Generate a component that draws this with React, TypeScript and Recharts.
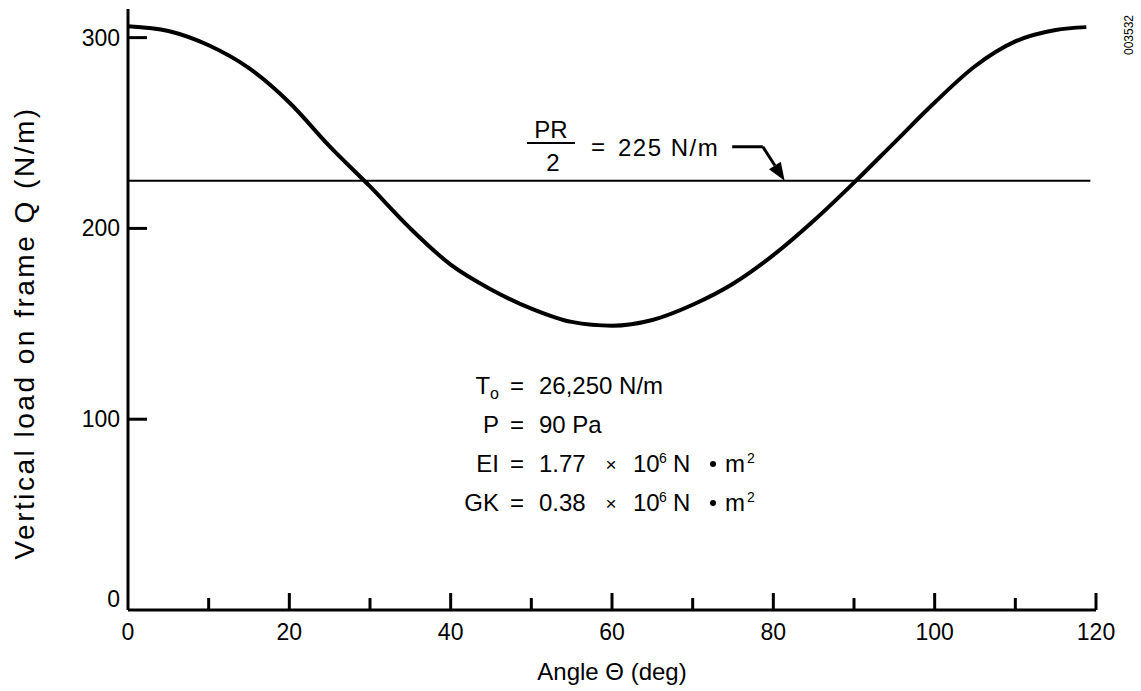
import { LineChart, Line, XAxis, YAxis, ReferenceLine } from "recharts";

// Angle (deg) vs vertical load on frame Q (N/m)
const angles = [0, 5, 10, 15, 20, 25, 30, 35, 40, 45, 50, 55, 60, 65, 70, 75, 80, 85, 90, 95, 100, 105, 110, 115, 118.8];
const loads = [306, 303.5, 296, 284, 266, 243, 222, 200, 181, 168, 158, 151, 149, 152, 160, 171, 186, 204, 224, 245, 266, 285, 298, 304, 305.5];

const xTicks = [0, 10, 20, 30, 40, 50, 60, 70, 80, 90, 100, 110, 120];
const yTicks = [0, 100, 200, 300];

const prHalf = 225;
const prLineEnd = 119.3;
// leader arrow for the PR/2 label, in data units
const arrowKnee = [
  { x: 74.9, y: 242.8 },
  { x: 78.7, y: 242.8 },
];
const arrowTip = [
  { x: 78.7, y: 242.8 },
  { x: 81.4, y: prHalf },
];

const data = angles.map((a, i) => ({ angle: a, load: loads[i] }));

const FONT = '"Liberation Sans", Arial, sans-serif';

const XTick = (props: any) => {
  const { x, y, payload } = props;
  const v = payload.value as number;
  const major = v % 20 === 0;
  return (
    <g>
      {v !== 0 && (
        <line x1={x} x2={x} y1={y} y2={y - (major ? 17 : 12)} stroke="#000" strokeWidth={3} />
      )}
      {major && (
        <text x={x} y={y + 30} textAnchor="middle" fontSize={23} fontFamily={FONT} fill="#000">
          {v}
        </text>
      )}
    </g>
  );
};

const YTick = (props: any) => {
  const { x, y, payload } = props;
  const v = payload.value as number;
  return (
    <g>
      {v !== 0 && <line x1={x} x2={x + 19} y1={y} y2={y} stroke="#000" strokeWidth={3} />}
      <text x={x - 8} y={v === 0 ? y - 3 : y + 8} textAnchor="end" fontSize={23} fontFamily={FONT} fill="#000">
        {v}
      </text>
    </g>
  );
};

const ArrowShape = (props: any) => {
  const { x1, y1, x2, y2 } = props;
  const ang = Math.atan2(y2 - y1, x2 - x1);
  const len = 18;
  const w = 7;
  const bx = x2 - len * Math.cos(ang);
  const by = y2 - len * Math.sin(ang);
  const px = -Math.sin(ang) * w;
  const py = Math.cos(ang) * w;
  return (
    <g>
      <line x1={x1} y1={y1} x2={bx} y2={by} stroke="#000" strokeWidth={3} />
      <polygon points={`${x2},${y2} ${bx + px},${by + py} ${bx - px},${by - py}`} fill="#000" />
    </g>
  );
};

const txt = { fontFamily: FONT, fontSize: 24, fill: "#000" } as const;

function Params() {
  const row = (y: number, left: any, right: any) => (
    <g>
      <text x={499} y={y} textAnchor="end" {...txt}>{left}</text>
      <text x={517} y={y} textAnchor="middle" {...txt}>=</text>
      {right}
    </g>
  );
  const sci = (y: number, mant: string) => (
    <g>
      <text x={539} y={y} {...txt}>{mant}</text>
      <text x={611} y={y - 1} textAnchor="middle" {...txt} fontSize={19}>×</text>
      <text x={633} y={y} {...txt}>10</text>
      <text x={659} y={y - 9} {...txt} fontSize={14}>6</text>
      <text x={673} y={y} {...txt}>N</text>
      <circle cx={713} cy={y - 8} r={3} fill="#000" />
      <text x={725} y={y} {...txt}>m</text>
      <text x={747} y={y - 9} {...txt} fontSize={14}>2</text>
    </g>
  );
  return (
    <g>
      {row(
        394,
        <>
          T<tspan fontSize={16} dy={5}>o</tspan>
        </>,
        <text x={539} y={394} {...txt}>26,250 N/m</text>
      )}
      {row(433, "P", <text x={539} y={433} {...txt}>90 Pa</text>)}
      {row(472, "EI", sci(472, "1.77"))}
      {row(511, "GK", sci(511, "0.38"))}
    </g>
  );
}

export default function App() {
  return (
    <div style={{ position: "absolute", left: 0, top: 0, width: 1141, height: 691, background: "#fff" }}>
      <LineChart width={1141} height={691} data={data} margin={{ top: 9, right: 45, bottom: 31, left: 68 }}>
        <XAxis
          type="number"
          dataKey="angle"
          domain={[0, 120]}
          ticks={xTicks}
          interval={0}
          height={50}
          axisLine={{ stroke: "#000", strokeWidth: 3 }}
          tickLine={false}
          tickSize={0}
          tickMargin={0}
          tick={<XTick />}
        />
        <YAxis
          type="number"
          domain={[0, 315]}
          ticks={yTicks}
          interval={0}
          width={60}
          axisLine={{ stroke: "#000", strokeWidth: 3 }}
          tickLine={false}
          tickSize={0}
          tickMargin={0}
          tick={<YTick />}
        />
        <ReferenceLine
          segment={[
            { x: 0, y: prHalf },
            { x: prLineEnd, y: prHalf },
          ]}
          stroke="#000"
          strokeWidth={2}
        />
        <ReferenceLine segment={arrowKnee} stroke="#000" strokeWidth={3} />
        <ReferenceLine segment={arrowTip} stroke="#000" strokeWidth={3} shape={<ArrowShape />} />
        <Line
          type="monotone"
          dataKey="load"
          stroke="#000"
          strokeWidth={4}
          dot={false}
          isAnimationActive={false}
        />
      </LineChart>
      <svg width={1141} height={691} style={{ position: "absolute", left: 0, top: 0, pointerEvents: "none" }}>
        <text x={612} y={680} textAnchor="middle" {...txt}>
          Angle Θ (deg)
        </text>
        <text
          x={34}
          y={333}
          textAnchor="middle"
          transform="rotate(-90 34 333)"
          {...txt}
          fontSize={28}
          letterSpacing={2.5}
        >
          Vertical load on frame Q (N/m)
        </text>
        <text x={551} y={138} textAnchor="middle" {...txt}>PR</text>
        <line x1={527} x2={575} y1={143} y2={143} stroke="#000" strokeWidth={2} />
        <text x={553} y={171} textAnchor="middle" {...txt}>2</text>
        <text x={598} y={155} textAnchor="middle" {...txt}>=</text>
        <text x={618} y={156} {...txt} letterSpacing={1.5}>225 N/m</text>
        <Params />
        <text x={1133} y={35} textAnchor="middle" transform="rotate(-90 1133 35)" fontFamily={FONT} fontSize={12} fill="#000">
          003532
        </text>
      </svg>
    </div>
  );
}
